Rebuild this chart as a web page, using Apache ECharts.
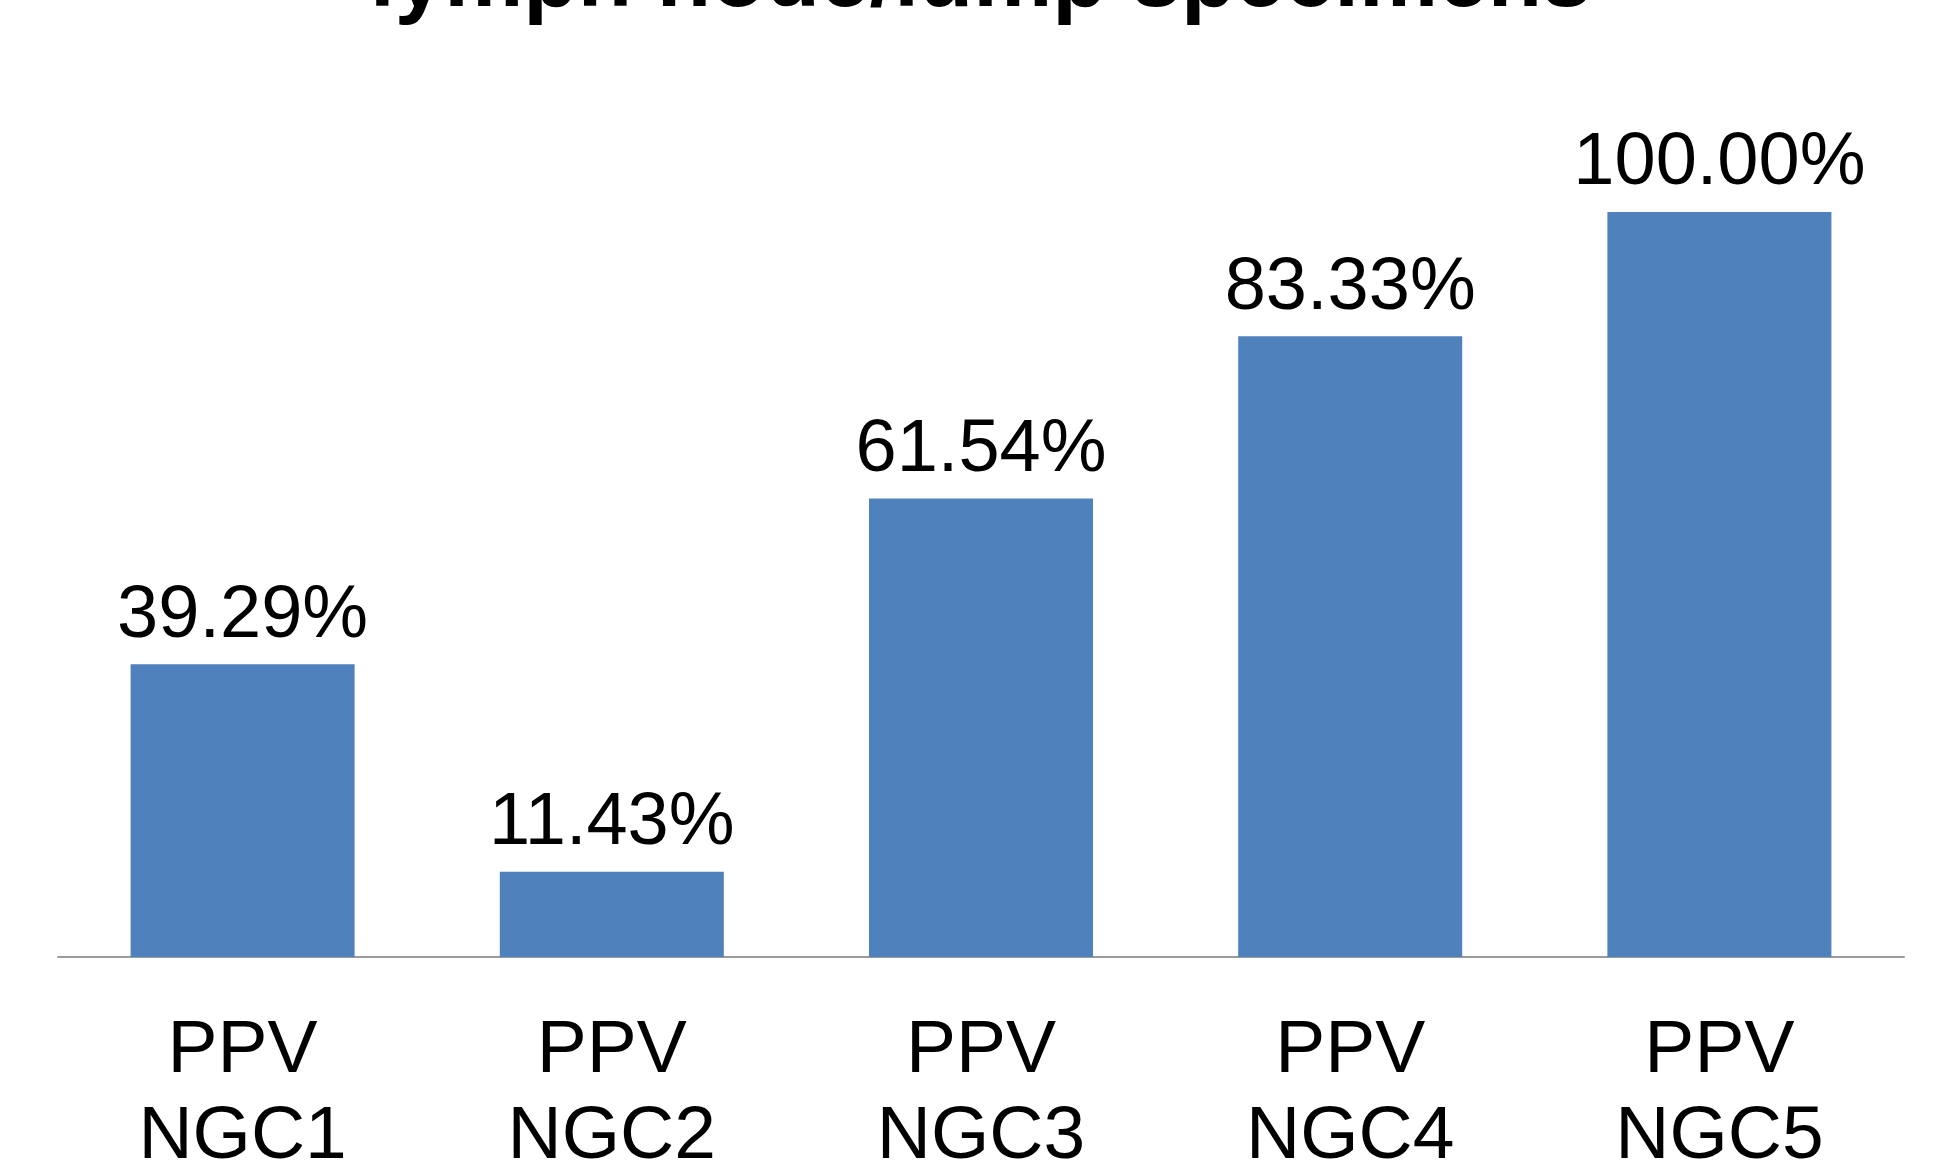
<!DOCTYPE html>
<html>
<head>
<meta charset="utf-8">
<script src="https://cdn.jsdelivr.net/npm/echarts@6/dist/echarts.min.js"></script>
<style>
  html, body { margin: 0; padding: 0; background: #fff; }
  #main { width: 1934px; height: 1167px; }
</style>
</head>
<body>
<div id="main"></div>
<script>
var categories = ["PPV\nNGC1", "PPV\nNGC2", "PPV\nNGC3", "PPV\nNGC4", "PPV\nNGC5"];
var ppvValues = [39.29, 11.43, 61.54, 83.33, 100.0];
var titleText = "lymph node/lump specimens";

var chart = echarts.init(document.getElementById("main"));
var option = {
  backgroundColor: "#ffffff",
  animation: false,
  title: {
    text: titleText,
    left: 370,
    top: -63,
    padding: 0,
    textStyle: {
      fontFamily: "Liberation Sans",
      fontWeight: "bold",
      fontSize: 89,
      lineHeight: 89,
      color: "#000"
    }
  },
  grid: {
    left: 58,
    right: 30,
    top: 212,
    bottom: 210,
    containLabel: false,
    outerBoundsMode: "none"
  },
  xAxis: {
    type: "category",
    data: categories,
    axisLine: { show: true, lineStyle: { color: "#9a9a9a", width: 2 } },
    axisTick: { show: false },
    axisLabel: {
      margin: 51,
      interval: 0,
      fontFamily: "Liberation Sans",
      fontSize: 75,
      lineHeight: 86,
      color: "#000"
    }
  },
  yAxis: {
    type: "value",
    min: 0,
    max: 100,
    show: false,
    splitLine: { show: false }
  },
  series: [
    {
      type: "bar",
      data: ppvValues,
      barWidth: 224,
      itemStyle: { color: "#4F81BD" },
      label: {
        show: true,
        position: "top",
        distance: 11,
        fontFamily: "Liberation Sans",
        fontSize: 74,
        lineHeight: 74,
        color: "#000",
        formatter: function (p) {
          return p.value.toFixed(2) + "%";
        }
      }
    }
  ]
};
chart.setOption(option);
</script>
</body>
</html>
